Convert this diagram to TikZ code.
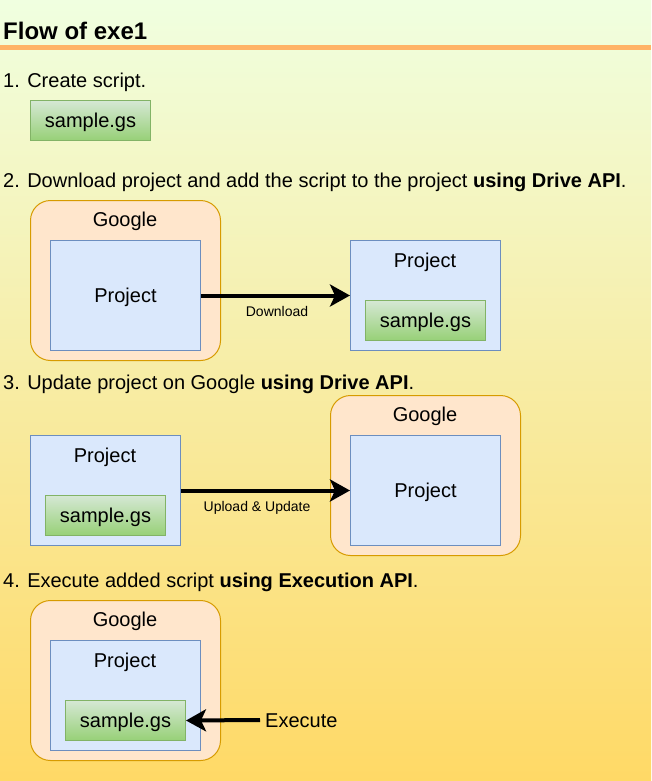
\documentclass[tikz,border=0pt]{standalone}
\usepackage{fontspec}
\setmainfont{Liberation Sans}
\usetikzlibrary{arrows.meta}
\definecolor{bgtop}{HTML}{F0FFE0}
\definecolor{bgbot}{HTML}{FFD966}
\definecolor{rulec}{HTML}{FFB366}
\definecolor{gfill}{HTML}{FFE6CC}
\definecolor{gdraw}{HTML}{D79B00}
\definecolor{pfill}{HTML}{DAE8FC}
\definecolor{pdraw}{HTML}{6C8EBF}
\definecolor{stop}{HTML}{D5E8D4}
\definecolor{sbot}{HTML}{97D077}
\definecolor{sdraw}{HTML}{82B366}
\tikzset{
  headtxt/.style={font=\fontsize{24}{28}\selectfont\bfseries, anchor=base west, inner sep=0pt},
  steptxt/.style={font=\fontsize{20}{24}\selectfont, anchor=base west, inner sep=0pt},
  smalltxt/.style={font=\fontsize{14}{17}\selectfont, anchor=base, inner sep=0pt},
  lbl/.style={font=\fontsize{20}{24}\selectfont, inner sep=0pt, text height=14pt, text depth=0pt},
  googlebox/.style={draw=gdraw, fill=gfill, rounded corners=20pt, minimum width=190pt, minimum height=160pt, anchor=north west, inner sep=0pt, line width=1pt},
  projbox/.style={lbl, draw=pdraw, fill=pfill, minimum width=150pt, minimum height=110pt, anchor=north west, line width=1pt},
  samplebox/.style={lbl, draw=sdraw, top color=stop, bottom color=sbot, minimum width=120pt, minimum height=40pt, anchor=north west, line width=1pt},
  bigarrow/.style={line width=4pt, -{Stealth[length=20pt,width=22pt,inset=5pt]}}
}
\begin{document}
\begin{tikzpicture}[x=1pt,y=-1pt]
\useasboundingbox (0,0) rectangle (651,781);
\shade[top color=bgtop, bottom color=bgbot] (0,0) rectangle (651,781);
\draw[line width=5pt, rulec] (0,47.5) -- (651,47.5);
\node[headtxt] (title) at (3,40) {Flow of exe1};

% step 1
\node[steptxt] (t1) at (3,88) {1. Create script.};
\node[samplebox] (s1) at (30,100) {sample.gs};

% step 2
\node[steptxt] (t2) at (3,187) {2. Download project and add the script to the project \textbf{using Drive API}.};
\node[googlebox] (g2) at (30,200) {};
\node[lbl, anchor=base] (g2l) at (125,226) {Google};
\node[projbox] (p2a) at (50,240) {Project};
\node[projbox] (p2b) at (350,240) {};
\node[lbl, anchor=base] (p2bl) at (425,267) {Project};
\node[samplebox] (s2) at (365,300) {sample.gs};
\draw[bigarrow] (p2a) -- (p2b);
\node[smalltxt] (dl) at (277,316) {Download};

% step 3
\node[steptxt] (t3) at (3,389) {3. Update project on Google \textbf{using Drive API}.};
\node[projbox] (p3a) at (30,435) {};
\node[lbl, anchor=base] (p3al) at (105,462) {Project};
\node[samplebox] (s3) at (45,495) {sample.gs};
\node[googlebox] (g3) at (330,395) {};
\node[lbl, anchor=base] (g3l) at (425,421) {Google};
\node[projbox] (p3b) at (350,435) {Project};
\draw[bigarrow] (p3a) -- (p3b);
\node[smalltxt] (ul) at (257,511) {Upload \& Update};

% step 4
\node[steptxt] (t4) at (3,587) {4. Execute added script \textbf{using Execution API}.};
\node[googlebox] (g4) at (30,600) {};
\node[lbl, anchor=base] (g4l) at (125,626) {Google};
\node[projbox] (p4) at (50,640) {};
\node[lbl, anchor=base] (p4l) at (125,667) {Project};
\node[samplebox] (s4) at (65,700) {sample.gs};
\node[lbl, anchor=west] (exe) at (265,720) {Execute};
\draw[bigarrow] ([xshift=-5pt]exe.west) -- (s4.east);
\end{tikzpicture}
\end{document}
